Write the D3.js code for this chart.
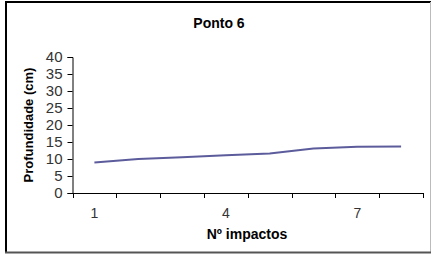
<!DOCTYPE html>
<html><head><meta charset="utf-8">
<script src="https://cdn.jsdelivr.net/npm/d3@7"></script>
<style>html,body{margin:0;padding:0;background:#fff;}svg{display:block;}</style>
</head><body>
<script>
const categories = [1, 2, 3, 4, 5, 6, 7, 8];
const values = [9.0, 10.0, 10.5, 11.1, 11.6, 13.1, 13.6, 13.7];
const yTicks = [0, 5, 10, 15, 20, 25, 30, 35, 40];
const xTickLabels = [1, 4, 7];
const title = "Ponto 6";
const xTitle = "Nº impactos";
const yTitle = "Profundidade (cm)";

(function(){
const W = 431, H = 254;
const svg = d3.select("body").append("svg").attr("width", W).attr("height", H);
const font = "'Liberation Sans', Arial, sans-serif";

// frame
svg.append("line").attr("x1",6).attr("y1",1).attr("x2",6).attr("y2",253).attr("stroke","#000").attr("stroke-width",2);
svg.append("line").attr("x1",5).attr("y1",2).attr("x2",431).attr("y2",2).attr("stroke","#000").attr("stroke-width",2);
svg.append("line").attr("x1",430.5).attr("y1",2).attr("x2",430.5).attr("y2",253).attr("stroke","#bbb").attr("stroke-width",1);
svg.append("line").attr("x1",5).attr("y1",252.5).attr("x2",431).attr("y2",252.5).attr("stroke","#555").attr("stroke-width",2);

const pLeft = 72.5, pRight = 423, pTop = 57, pBottom = 193;
const x = d3.scaleBand().domain(categories).range([pLeft, pRight]).padding(0);
const y = d3.scaleLinear().domain([0, 40]).range([pBottom, pTop]);

// y axis
const yAxis = d3.axisLeft(y).tickValues(yTicks).tickSize(5).tickPadding(5);
const gy = svg.append("g").attr("transform", `translate(${pLeft},0)`).call(yAxis);
gy.select(".domain").attr("stroke","#000");
gy.selectAll(".tick line").attr("stroke","#000");
gy.selectAll("text").attr("font-family", font).attr("font-size", 15).attr("fill","#333");

// x axis with ticks at category boundaries
const bounds = categories.map(c => x(c)).concat([pRight]);
svg.append("line").attr("x1", pLeft).attr("x2", pRight).attr("y1", pBottom+0.5).attr("y2", pBottom+0.5).attr("stroke","#000");
svg.selectAll(".xt").data(bounds).enter().append("line")
  .attr("x1", d => Math.round(d)+0.5).attr("x2", d => Math.round(d)+0.5)
  .attr("y1", pBottom).attr("y2", pBottom+5).attr("stroke", "#000");
svg.selectAll(".xl").data(xTickLabels).enter().append("text")
  .attr("x", d => x(d) + x.bandwidth()/2).attr("y", pBottom + 25)
  .attr("text-anchor","middle").attr("font-family", font).attr("font-size", 14).attr("fill","#333")
  .text(d => d);

// line
const line = d3.line().x((d,i) => x(categories[i]) + x.bandwidth()/2).y(d => y(d));
svg.append("path").datum(values).attr("d", line).attr("fill","none")
  .attr("stroke","#5c5c9c").attr("stroke-width",2);

// titles
svg.append("text").attr("x", 219).attr("y", 28).attr("text-anchor","middle")
  .attr("font-family", font).attr("font-size", 14).attr("font-weight","bold").text(title);
svg.append("text").attr("x", 247).attr("y", 239).attr("text-anchor","middle")
  .attr("font-family", font).attr("font-size", 14).attr("font-weight","bold").text(xTitle);
svg.append("text").attr("transform", "translate(33,125) rotate(-90)").attr("text-anchor","middle")
  .attr("font-family", font).attr("font-size", 13).attr("font-weight","bold").text(yTitle);
})();
</script>
</body></html>
